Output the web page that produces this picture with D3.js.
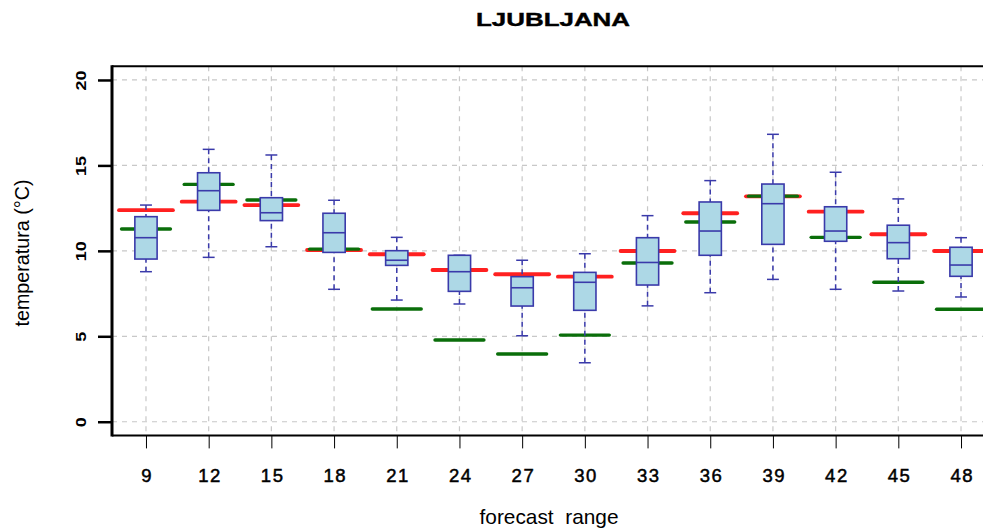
<!DOCTYPE html>
<html><head><meta charset="utf-8">
<script src="https://cdn.jsdelivr.net/npm/d3@7"></script>
<style>body{margin:0;background:#fff}svg{display:block}</style>
</head><body>
<script>
const hours = [9,12,15,18,21,24,27,30,33,36,39,42,45,48];
const whiskerLow  = [8.78,9.62,10.24,7.75,7.12,6.89,5.03,3.45,6.78,7.55,8.33,7.75,7.65,7.30];
const q1          = [9.52,12.37,11.77,9.91,9.15,7.63,6.77,6.52,8.00,9.74,10.38,10.56,9.54,8.51];
const median      = [10.77,13.52,12.23,11.06,9.45,8.78,7.84,8.16,9.32,11.16,12.76,11.16,10.48,9.17];
const q3          = [12.00,14.57,13.11,12.20,10.01,9.74,8.49,8.74,10.77,12.86,13.91,12.58,11.50,10.21];
const whiskerHigh = [12.68,15.94,15.61,12.96,10.79,9.74,9.45,9.83,12.06,14.11,16.82,14.60,13.04,10.77];
const redValues   = [12.38,12.88,12.68,10.05,9.80,8.88,8.63,8.49,9.99,12.20,13.19,12.29,10.97,9.99];
const greenValues = [11.28,13.89,12.98,10.10,6.60,4.78,3.96,5.07,9.29,11.69,13.20,10.79,8.16,6.58];
const yTicks = [0,5,10,15,20];
const titleText = "LJUBLJANA";
const xLabel = "forecast  range";
const yLabel = "temperatura (°C)";

const W = 983, H = 529;
const FONT = "Liberation Sans, Arial, sans-serif";
const svg = d3.select("body").append("svg").attr("width", W).attr("height", H);

const data = hours.map((h,i)=>({h, i:i+1, lo:whiskerLow[i], q1:q1[i], med:median[i], q3:q3[i], hi:whiskerHigh[i], red:redValues[i], green:greenValues[i]}));

const x = d3.scaleLinear().domain([0.458, 14.542]).range([112, 995]);
const y = d3.scaleLinear().domain([-0.8, 20.8]).range([435.4, 66.3]);
const step = x(2) - x(1);

const plot = svg.append("g");

// grid
plot.selectAll(".hg").data(yTicks).join("line")
  .attr("x1", 112).attr("x2", 995).attr("y1", d=>y(d)).attr("y2", d=>y(d))
  .attr("stroke", "#c8c8c8").attr("stroke-width", 1.2).attr("stroke-dasharray", "5,5");
plot.selectAll(".vg").data(data).join("line")
  .attr("x1", d=>x(d.i)).attr("x2", d=>x(d.i)).attr("y1", y(20.8)).attr("y2", y(-0.8))
  .attr("stroke", "#c8c8c8").attr("stroke-width", 1.2).attr("stroke-dasharray", "5,5");

// red & green reference lines
plot.selectAll(".red").data(data).join("line")
  .attr("x1", d=>x(d.i)-step*0.43).attr("x2", d=>x(d.i)+step*0.43)
  .attr("y1", d=>y(d.red)).attr("y2", d=>y(d.red))
  .attr("stroke", "#ff2020").attr("stroke-width", 3.8).attr("stroke-linecap","round");
plot.selectAll(".green").data(data).join("line")
  .attr("x1", d=>x(d.i)-step*0.39).attr("x2", d=>x(d.i)+step*0.39)
  .attr("y1", d=>y(d.green)).attr("y2", d=>y(d.green))
  .attr("stroke", "#0a6e0a").attr("stroke-width", 3.4).attr("stroke-linecap","round");

const blue = "#3a3aaa";
// whiskers
plot.selectAll(".wl").data(data).join("line")
  .attr("x1", d=>x(d.i)).attr("x2", d=>x(d.i)).attr("y1", d=>y(d.lo)).attr("y2", d=>y(d.q1))
  .attr("stroke", blue).attr("stroke-width", 1.5).attr("stroke-dasharray", "5,4");
plot.selectAll(".wh").data(data).join("line")
  .attr("x1", d=>x(d.i)).attr("x2", d=>x(d.i)).attr("y1", d=>y(d.hi)).attr("y2", d=>y(d.q3))
  .attr("stroke", blue).attr("stroke-width", 1.5).attr("stroke-dasharray", "5,4");
const capW = step*0.095;
plot.selectAll(".cl").data(data).join("line")
  .attr("x1", d=>x(d.i)-capW).attr("x2", d=>x(d.i)+capW).attr("y1", d=>y(d.lo)).attr("y2", d=>y(d.lo))
  .attr("stroke", blue).attr("stroke-width", 1.5);
plot.selectAll(".ch").data(data).join("line")
  .attr("x1", d=>x(d.i)-capW).attr("x2", d=>x(d.i)+capW).attr("y1", d=>y(d.hi)).attr("y2", d=>y(d.hi))
  .attr("stroke", blue).attr("stroke-width", 1.5);

// boxes
const boxW = step*0.355;
plot.selectAll(".box").data(data).join("rect")
  .attr("x", d=>x(d.i)-boxW/2).attr("width", boxW)
  .attr("y", d=>y(d.q3)).attr("height", d=>y(d.q1)-y(d.q3))
  .attr("fill", "#add8e6").attr("stroke", blue).attr("stroke-width", 1.6);
plot.selectAll(".med").data(data).join("line")
  .attr("x1", d=>x(d.i)-boxW/2).attr("x2", d=>x(d.i)+boxW/2).attr("y1", d=>y(d.med)).attr("y2", d=>y(d.med))
  .attr("stroke", blue).attr("stroke-width", 1.6);

// frame
svg.append("line").attr("x1",112).attr("x2",995).attr("y1",y(20.8)).attr("y2",y(20.8)).attr("stroke","#000").attr("stroke-width",2);
svg.append("line").attr("x1",112).attr("x2",995).attr("y1",y(-0.8)).attr("y2",y(-0.8)).attr("stroke","#000").attr("stroke-width",2);
svg.append("line").attr("x1",112).attr("x2",112).attr("y1",y(20.8)-1).attr("y2",y(-0.8)+1).attr("stroke","#000").attr("stroke-width",3);

// axes
const yAxis = d3.axisLeft(y).tickValues(yTicks).tickSize(14).tickPadding(0).tickFormat(d3.format("d"));
const gy = svg.append("g").attr("transform","translate(112,0)").call(yAxis);
gy.select(".domain").remove();
gy.selectAll(".tick line").attr("stroke","#000").attr("stroke-width",2.5);
gy.selectAll(".tick text")
  .attr("transform","translate(-31,0) rotate(-90)")
  .attr("x",0).attr("y",0).attr("dy","0.35em")
  .attr("text-anchor","middle")
  .attr("textLength", d=>String(d).length*10).attr("lengthAdjust","spacingAndGlyphs")
  .style("font-family",FONT).style("font-size","14.5px").style("font-weight","bold")
  .attr("fill","#000");

const xAxis = d3.axisBottom(x).tickValues(data.map(d=>d.i)).tickSize(13).tickPadding(20).tickFormat((d,k)=>hours[k]);
const gx = svg.append("g").attr("transform",`translate(0,${y(-0.8)})`).call(xAxis);
gx.select(".domain").remove();
gx.selectAll(".tick line").attr("stroke","#000").attr("stroke-width",1);
gx.selectAll(".tick text")
  .style("font-family",FONT).style("font-size","18.5px").style("font-weight","normal")
  .style("letter-spacing","1.5px").attr("dx","0.75px").attr("fill","#000")
  .attr("stroke","#000").attr("stroke-width",0.5);

// titles
svg.append("text").attr("x",553).attr("y",26).attr("text-anchor","middle")
  .attr("textLength",154).attr("lengthAdjust","spacingAndGlyphs")
  .style("font-family",FONT).style("font-size","19px").style("font-weight","bold")
  .attr("stroke","#000").attr("stroke-width",0.4)
  .text(titleText);
svg.append("text").attr("x",549).attr("y",524).attr("text-anchor","middle")
  .attr("textLength",139).attr("lengthAdjust","spacingAndGlyphs")
  .style("font-family",FONT).style("font-size","21px").style("white-space","pre")
  .text(xLabel);
svg.append("text").attr("transform","translate(29,253) rotate(-90)").attr("text-anchor","middle")
  .attr("textLength",147).attr("lengthAdjust","spacingAndGlyphs")
  .style("font-family",FONT).style("font-size","20px")
  .text(yLabel);
</script>
</body></html>
